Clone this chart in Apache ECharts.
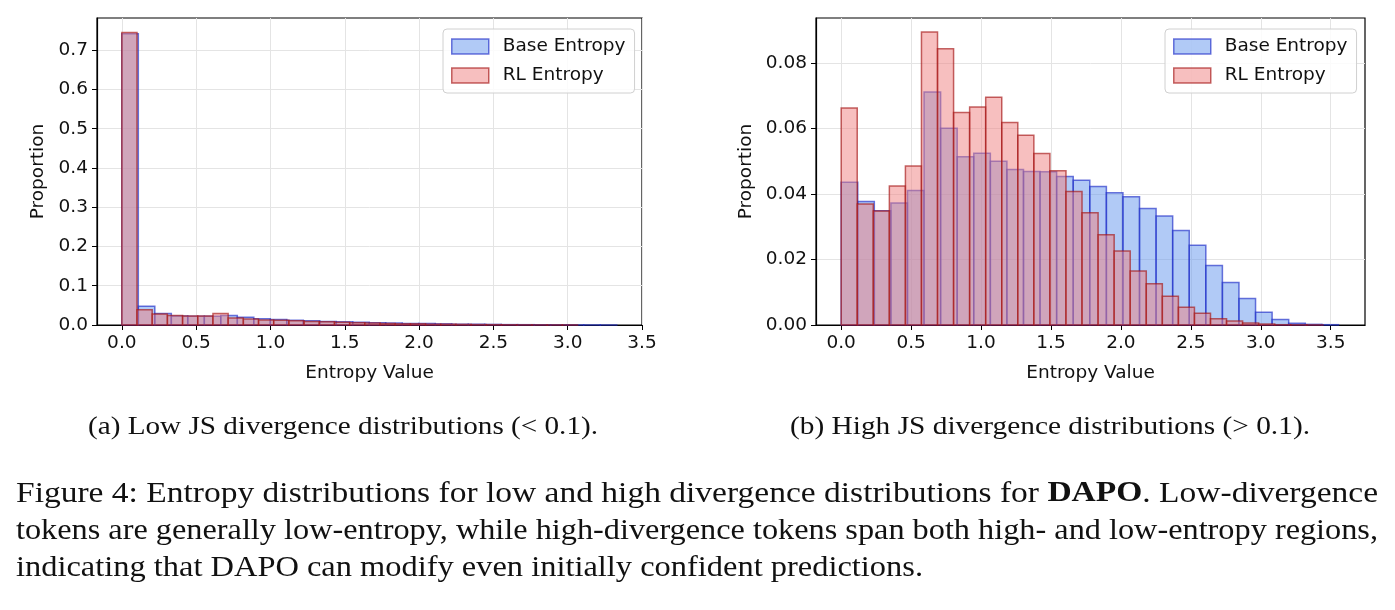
<!DOCTYPE html>
<html>
<head>
<meta charset="utf-8">
<script src="https://cdn.jsdelivr.net/npm/echarts@6.0.0/dist/echarts.min.js"></script>
<style>
  html, body { margin: 0; padding: 0; background: #fff; }
  #main { width: 1395px; height: 610px; }
</style>
</head>
<body>
<div id="main"></div>
<script>
// histogram heights, one value per bin
const lowBaseWidth = 0.111;
const lowBase = [0.742, 0.048, 0.029, 0.023, 0.022, 0.022, 0.024, 0.020, 0.016, 0.014,
  0.012, 0.011, 0.009, 0.008, 0.007, 0.006, 0.005, 0.004, 0.004, 0.003,
  0.002, 0.002, 0.0015, 0.001, 0.0008, 0.0006, 0.0004, 0.0003, 0.0002, 0.0001];
const lowRLWidth = 0.1022;
const lowRL = [0.745, 0.039, 0.028, 0.024, 0.023, 0.023, 0.029, 0.018, 0.015, 0.013,
  0.012, 0.011, 0.009, 0.008, 0.007, 0.006, 0.005, 0.004, 0.003, 0.003,
  0.002, 0.002, 0.0015, 0.001, 0.0008, 0.0005, 0.0003, 0.0002, 0.0001, 0.0001];

const highBaseWidth = 0.1185;
const highBase = [0.0436, 0.0377, 0.0349, 0.0373, 0.0411, 0.0712, 0.0601, 0.0514, 0.0525, 0.0500,
  0.0475, 0.0469, 0.0468, 0.0454, 0.0442, 0.0423, 0.0404, 0.0392, 0.0356, 0.0333,
  0.0289, 0.0244, 0.0182, 0.0130, 0.0081, 0.0039, 0.0017, 0.0005, 0.0002, 0.0001];
const highRLWidth = 0.1148;
const highRL = [0.0663, 0.0370, 0.0348, 0.0425, 0.0486, 0.0895, 0.0844, 0.0649, 0.0666, 0.0696,
  0.0619, 0.0580, 0.0524, 0.0471, 0.0408, 0.0343, 0.0276, 0.0226, 0.0165, 0.0126,
  0.0088, 0.0054, 0.0036, 0.0019, 0.0012, 0.0006, 0.0003, 0.0001, 0.00005, 0.00002];

const xTicks = [0, 0.5, 1, 1.5, 2, 2.5, 3, 3.5];
const lowYTicks = [0, 0.1, 0.2, 0.3, 0.4, 0.5, 0.6, 0.7];
const highYTicks = [0, 0.02, 0.04, 0.06, 0.08];

const seriesNames = ['Base Entropy', 'RL Entropy'];
const subCaptions = ['(a) Low JS divergence distributions (< 0.1).',
  '(b) High JS divergence distributions (> 0.1).'];
const captionLines = [
  ['Figure 4: Entropy distributions for low and high divergence distributions for ', 'DAPO', '. Low-divergence'],
  ['tokens are generally low-entropy, while high-divergence tokens span both high- and low-entropy regions,'],
  ['indicating that DAPO can modify even initially confident predictions.']
];

const BLUE = { fill: 'rgba(100,149,237,0.5)', stroke: 'rgba(30,45,200,0.65)' };
const RED = { fill: 'rgba(240,128,128,0.5)', stroke: 'rgba(165,20,20,0.65)' };
const SANS = 'DejaVu Sans';
const SERIF = 'Liberation Serif';
const FS = 18.5;

function bins(values, width) {
  return values.map((v, i) => [i * width, (i + 1) * width, v]);
}

function histSeries(name, values, width, col, idx) {
  return {
    type: 'custom',
    name: name,
    xAxisIndex: idx,
    yAxisIndex: idx,
    data: bins(values, width),
    encode: { x: [0, 1], y: 2 },
    itemStyle: { color: col.fill, borderColor: col.stroke, borderWidth: 1.5 },
    renderItem: function (params, api) {
      const p0 = api.coord([api.value(0), 0]);
      const p1 = api.coord([api.value(1), api.value(2)]);
      return {
        type: 'rect',
        shape: { x: p0[0], y: p1[1], width: p1[0] - p0[0], height: p0[1] - p1[1] },
        style: { fill: col.fill, stroke: col.stroke, lineWidth: 1.5 }
      };
    }
  };
}

function xAxis(idx, min, max) {
  return {
    type: 'value', gridIndex: idx, min: min, max: max, splitNumber: 7,
    name: 'Entropy Value', nameLocation: 'middle', nameGap: 39,
    nameTextStyle: { fontFamily: SANS, fontSize: FS, color: '#111' },
    axisLine: { show: true, onZero: false, lineStyle: { color: '#000', width: 1.2 } },
    axisTick: { show: true, length: 5, customValues: xTicks, lineStyle: { color: '#000' } },
    axisLabel: { customValues: xTicks, margin: 9, fontFamily: SANS, fontSize: FS, color: '#111',
      formatter: v => v.toFixed(1) },
    splitLine: { show: true, lineStyle: { color: '#e4e4e4', width: 1 } }
  };
}

function yAxis(idx, max, step, ticks, digits, gap) {
  return {
    type: 'value', gridIndex: idx, min: 0, max: max, interval: step,
    name: 'Proportion', nameLocation: 'middle', nameGap: gap,
    nameTextStyle: { fontFamily: SANS, fontSize: FS, color: '#111' },
    axisLine: { show: true, onZero: false, lineStyle: { color: '#000', width: 1.2 } },
    axisTick: { show: true, length: 5, customValues: ticks, lineStyle: { color: '#000' } },
    axisLabel: { customValues: ticks, margin: 9, fontFamily: SANS, fontSize: FS, color: '#111',
      formatter: v => v.toFixed(digits) },
    splitLine: { show: true, lineStyle: { color: '#e4e4e4', width: 1 } }
  };
}

function legend(idx, left) {
  return {
    left: left, top: 29, orient: 'vertical',
    padding: [7, 9, 7, 8], itemGap: 8, itemWidth: 37, itemHeight: 15,
    borderColor: '#d0d0d0', borderWidth: 1, borderRadius: 4,
    backgroundColor: 'rgba(255,255,255,0.85)',
    textStyle: { fontFamily: SANS, fontSize: FS, lineHeight: 21, color: '#111', padding: [0, 0, 0, 9] },
    selectedMode: false,
    data: [
      { name: seriesNames[0], icon: 'rect', itemStyle: { color: BLUE.fill, borderColor: BLUE.stroke, borderWidth: 1.5 } },
      { name: seriesNames[1], icon: 'rect', itemStyle: { color: RED.fill, borderColor: RED.stroke, borderWidth: 1.5 } }
    ]
  };
}

// stretch caption text horizontally so each line spans the width it has in the picture
const ctx = document.createElement('canvas').getContext('2d');
function textWidth(str, size, weight) {
  ctx.font = (weight || 'normal') + ' ' + size + 'px "' + SERIF + '"';
  return ctx.measureText(str).width;
}

const captionSize = 29;
const captionTargets = [1362, 1362, 907];
const captionY = [494, 531, 568];
const graphics = [];

captionLines.forEach((parts, i) => {
  let w = 0;
  parts.forEach((p, j) => { w += textWidth(p, captionSize, j === 1 ? 'bold' : 'normal'); });
  const text = parts.length === 3 ? parts[0] + '{b|' + parts[1] + '}' + parts[2] : parts[0];
  graphics.push({
    type: 'text', x: 16, y: captionY[i], scaleX: captionTargets[i] / w,
    style: {
      text: text, fontFamily: SERIF, fontSize: captionSize, fill: '#111',
      verticalAlign: 'middle', align: 'left',
      rich: { b: { fontFamily: SERIF, fontSize: captionSize, fontWeight: 'bold', fill: '#111' } }
    }
  });
});

const subSize = 26;
const subTargets = [510, 520];
const subX = [88, 790];
subCaptions.forEach((s, i) => {
  const w = textWidth(s, subSize);
  graphics.push({
    type: 'text', x: subX[i], y: 427, scaleX: subTargets[i] / w,
    style: { text: s, fontFamily: SERIF, fontSize: subSize, fill: '#111', verticalAlign: 'middle', align: 'left' }
  });
});

const chart = echarts.init(document.getElementById('main'), null, { renderer: 'canvas' });
chart.setOption({
  backgroundColor: '#fff',
  animation: false,
  grid: [
    { left: 97, top: 18, width: 545, height: 307, show: true, borderColor: '#000', borderWidth: 1.2, containLabel: false },
    { left: 816, top: 18, width: 549, height: 307, show: true, borderColor: '#000', borderWidth: 1.2, containLabel: false }
  ],
  xAxis: [xAxis(0, -0.167, 3.5), xAxis(1, -0.18, 3.745)],
  yAxis: [yAxis(0, 0.782, 0.1, lowYTicks, 1, 49), yAxis(1, 0.0938, 0.02, highYTicks, 2, 60)],
  legend: [legend(0, 443), legend(1, 1165)],
  series: [
    histSeries(seriesNames[0], lowBase, lowBaseWidth, BLUE, 0),
    histSeries(seriesNames[1], lowRL, lowRLWidth, RED, 0),
    histSeries(seriesNames[0], highBase, highBaseWidth, BLUE, 1),
    histSeries(seriesNames[1], highRL, highRLWidth, RED, 1)
  ],
  graphic: graphics
});
</script>
</body>
</html>
